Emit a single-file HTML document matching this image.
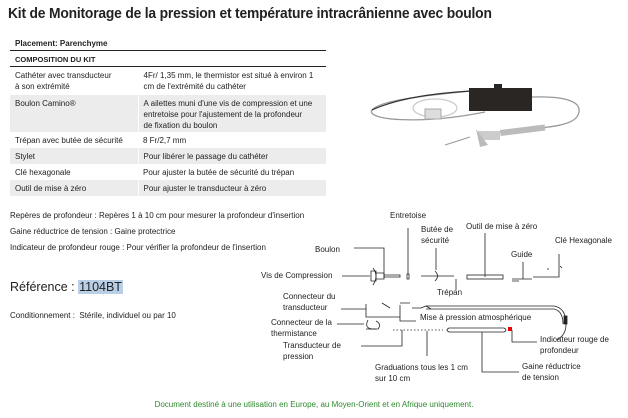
<!DOCTYPE html>
<html><head><meta charset="utf-8"><style>
*{margin:0;padding:0;box-sizing:border-box}
body{width:628px;height:418px;background:#fff;font-family:"Liberation Sans",sans-serif;color:#222;position:relative;overflow:hidden}
.a{position:absolute;white-space:nowrap;font-size:8px;line-height:11px}
h1{position:absolute;left:8px;top:6px;font-size:14.5px;font-weight:bold;color:#222;white-space:nowrap;letter-spacing:-0.2px;transform:scaleX(0.955);transform-origin:0 0}
table{position:absolute;left:10px;top:37px;width:316px;border-collapse:collapse;font-size:8px}
td{padding:1px 5px;vertical-align:top;line-height:11px}
.g td{background:#ececec}
</style></head><body>
<h1>Kit de Monitorage de la pression et température intracrânienne avec boulon</h1>
<table>
<tr style="height:13px;border-bottom:1px solid #222"><td colspan="2" style="font-weight:bold;padding-top:1px">Placement: Parenchyme</td></tr>
<tr style="height:16px"><td colspan="2" style="font-weight:bold;padding-top:3px;border-bottom:1px solid #222;font-size:7.5px">COMPOSITION DU KIT</td></tr>
<tr style="height:28px"><td style="width:128px;padding-top:3px">Cathéter avec transducteur<br>à son extrémité</td><td style="padding-top:3px;border-left:1px solid #fff">4Fr/ 1,35 mm, le thermistor est situé à environ 1<br>cm de l'extrémité du cathéter</td></tr>
<tr class="g" style="height:37px"><td style="padding-top:3px">Boulon Camino®</td><td style="padding-top:3px;border-left:1px solid #fff">A ailettes muni d'une vis de compression et une<br>entretoise pour l'ajustement de la profondeur<br>de fixation du boulon</td></tr>
<tr style="height:16px"><td style="padding-top:3px">Trépan avec butée de sécurité</td><td style="padding-top:3px">8 Fr/2,7 mm</td></tr>
<tr class="g" style="height:16px"><td style="padding-top:3px">Stylet</td><td style="padding-top:3px;border-left:1px solid #fff">Pour libérer le passage du cathéter</td></tr>
<tr style="height:16px"><td style="padding-top:3px">Clé hexagonale</td><td style="padding-top:3px">Pour ajuster la butée de sécurité du trépan</td></tr>
<tr class="g" style="height:16px"><td style="padding-top:3px">Outil de mise à zéro</td><td style="padding-top:3px;border-left:1px solid #fff">Pour ajuster le transducteur à zéro</td></tr>
</table>

<div class="a" style="left:10px;top:210px">Repères de profondeur : Repères 1 à 10 cm pour mesurer la profondeur d'insertion</div>
<div class="a" style="left:10px;top:226px">Gaine réductrice de tension : Gaine protectrice</div>
<div class="a" style="left:10px;top:242px">Indicateur de profondeur rouge : Pour vérifier la profondeur de l'insertion</div>
<div class="a" style="left:10px;top:279px;font-size:12.5px;line-height:16px">Référence : <span style="background:#b9cfe6;padding:0 1px">1104BT</span></div>
<div class="a" style="left:10px;top:310px">Conditionnement :&nbsp; Stérile, individuel ou par 10</div>
<div class="a" style="left:0;width:628px;text-align:center;top:399px;color:#2e8b2e">Document destiné à une utilisation en Europe, au Moyen-Orient et en Afrique uniquement.</div>

<svg style="position:absolute;left:0;top:0" width="628" height="418">
<g fill="none" stroke="#999" stroke-width="1.3">
<path d="M471,91 C430,95 380,100 372,110 C365,120 420,125 485,112"/>
<path d="M532,97 C560,96 585,100 578,115 C572,130 520,128 500,132"/>
<ellipse cx="435" cy="108" rx="22" ry="9" stroke="#ccc"/>
</g>
<path d="M471,91 C440,93 400,97 372,110" stroke="#333" stroke-width="1.2" fill="none"/>
<rect x="469" y="88" width="63" height="23" fill="#2a2623"/>
<rect x="494" y="84" width="8" height="6" fill="#2a2623"/>
<rect x="425" y="109" width="16" height="10" fill="#ddd" stroke="#aaa"/>
<line x1="445" y1="145" x2="470" y2="137" stroke="#999" stroke-width="1"/>
<rect x="478" y="131" width="22" height="9" fill="#ccc"/>
<path d="M476,129 L488,145 L480,147 Z" fill="#bbb"/>
<rect x="500" y="130" width="45" height="6" fill="#bbb" transform="rotate(-7 500 130)"/>
<g fill="none" stroke="#222" stroke-width="0.8">
<path d="M354,248 H384 V278"/>
<path d="M342,276 H370"/>
<path d="M371,271 h5 v10 h-5z M376,273 h8 v6 h-8z M384,275 h16 v2 h-16z"/>
<path d="M373,268 q6,8 0,17"/>
<path d="M408,228 V274 M407,274 v5 h2 v-5z"/>
<path d="M436,248 V270"/>
<path d="M421,276 h18 M435,271 q5,5 0,10 M439,276 h15"/>
<path d="M456,279 V290"/>
<path d="M485,233 V277"/>
<rect x="467" y="275" width="36" height="4"/>
<path d="M523,262 V279 M512,279 h20 M512,281 h7 M559,254 v23 h-26"/>
<path d="M548,268 v2 M560,266 l2,2"/>
<path d="M341,309 H366 M366,304 v13 h34 v-12 M382,303 l8,5 M400,303 h10 M412,308 h9 l5,-2 l5,3 M426,306 h128 q12,2 12,18 q0,12 -10,16 M426,309 h128 q9,2 9,15"/>
<path d="M400,317 v4 h16"/>
<rect x="564" y="316" width="3" height="8" fill="#222"/>
<path d="M337,324 H364 M368,320 q-4,8 4,9 h6 q4,-5 -2,-8"/>
<path d="M366,329 h10"/>
<path d="M393,330 h50" stroke-dasharray="1.5 2"/>
<path d="M449,328 h55 q4,2 0,4 h-55 q-4,-2 0,-4z M449,332 h55"/>
<path d="M427,331 V356"/>
<path d="M361,346 H402 V330"/>
<path d="M482,332 V372 H519"/>
<path d="M512,330 V342 H537"/>
</g>
<rect x="508" y="327" width="4" height="4" fill="#e00"/>
</svg>

<div class="a" style="left:390px;top:210px">Entretoise</div>
<div class="a" style="left:421px;top:224px">Butée de<br>sécurité</div>
<div class="a" style="left:466px;top:221px">Outil de mise à zéro</div>
<div class="a" style="left:555px;top:235px">Clé Hexagonale</div>
<div class="a" style="left:511px;top:249px">Guide</div>
<div class="a" style="left:315px;top:244px">Boulon</div>
<div class="a" style="left:261px;top:270px">Vis de Compression</div>
<div class="a" style="left:437px;top:287px">Trépan</div>
<div class="a" style="left:283px;top:291px">Connecteur du<br>transducteur</div>
<div class="a" style="left:271px;top:317px">Connecteur de la<br>thermistance</div>
<div class="a" style="left:420px;top:312px">Mise à pression atmosphérique</div>
<div class="a" style="left:283px;top:340px">Transducteur de<br>pression</div>
<div class="a" style="left:540px;top:334px">Indicateur rouge de<br>profondeur</div>
<div class="a" style="left:375px;top:362px">Graduations tous les 1 cm<br>sur 10 cm</div>
<div class="a" style="left:522px;top:361px">Gaine réductrice<br>de tension</div>
</body></html>
